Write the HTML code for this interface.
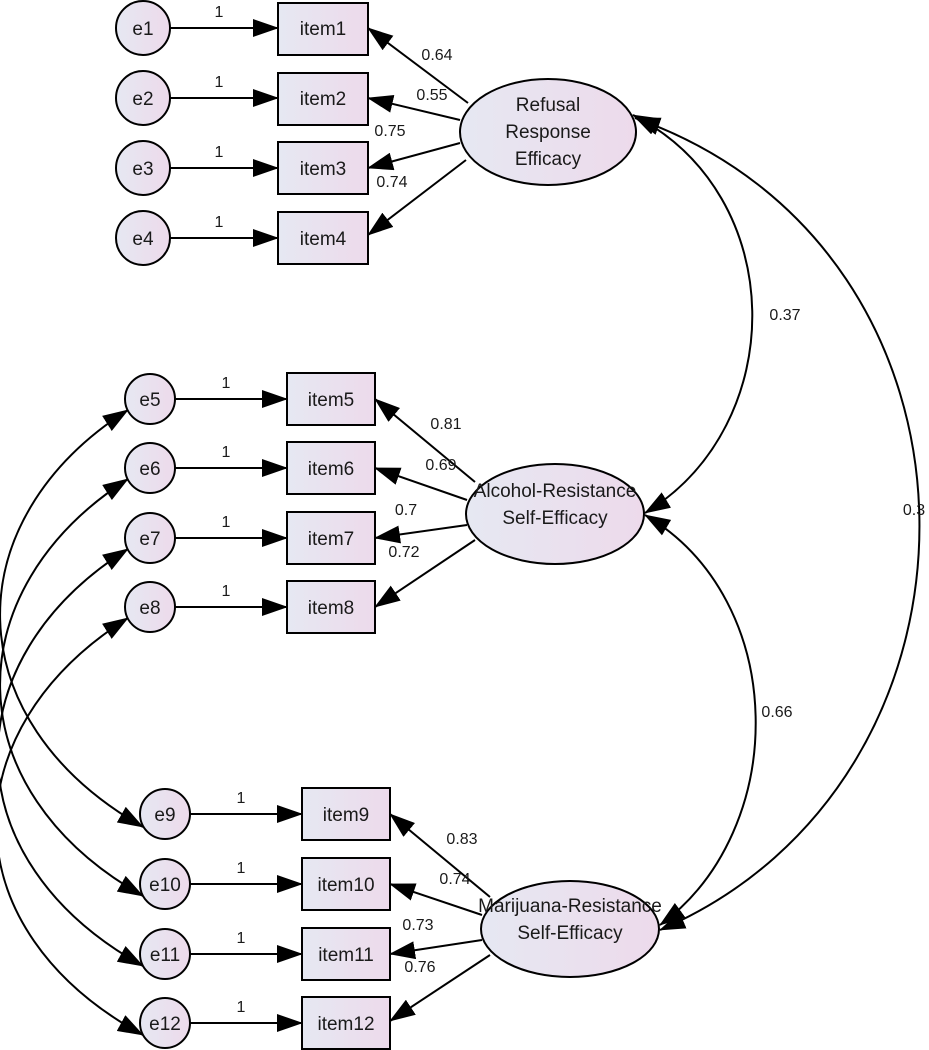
<!DOCTYPE html>
<html><head><meta charset="utf-8"><style>
html,body{margin:0;padding:0;background:#fff;}
svg{display:block;}
text{font-family:"Liberation Sans",sans-serif;fill:#1a1a1a;}
</style></head><body>
<svg width="929" height="1050" viewBox="0 0 929 1050" xmlns="http://www.w3.org/2000/svg">
<defs>
<linearGradient id="g" x1="0" y1="0" x2="1" y2="0">
<stop offset="0" stop-color="#e6e8f2"/><stop offset="1" stop-color="#eddaeb"/>
</linearGradient>
<marker id="a" markerUnits="userSpaceOnUse" markerWidth="26" markerHeight="18" viewBox="0 0 26 18" refX="25" refY="9" orient="auto-start-reverse">
<path d="M0,0 L26,9 L0,18 z" fill="#000"/>
</marker>
</defs>
<g stroke="#000" stroke-width="2" fill="none">
<path d="M143,827 C -45,720 -45,520 128,410" marker-start="url(#a)" marker-end="url(#a)"/>
<path d="M143,896 C -45,790 -45,590 128,479" marker-start="url(#a)" marker-end="url(#a)"/>
<path d="M143,966 C -48,860 -48,660 128,549" marker-start="url(#a)" marker-end="url(#a)"/>
<path d="M143,1035 C -50,930 -50,730 128,618" marker-start="url(#a)" marker-end="url(#a)"/>
<path d="M633,115 C 790,195 790,425 645,513" marker-start="url(#a)" marker-end="url(#a)"/>
<path d="M635,118 C 1010,250 1010,780 660,930" marker-start="url(#a)" marker-end="url(#a)"/>
<path d="M645,515 C 790,600 790,830 660,925" marker-start="url(#a)" marker-end="url(#a)"/>
<path d="M170,28 H278" marker-end="url(#a)"/>
<path d="M170,98 H278" marker-end="url(#a)"/>
<path d="M170,168 H278" marker-end="url(#a)"/>
<path d="M170,238 H278" marker-end="url(#a)"/>
<path d="M175,399 H287" marker-end="url(#a)"/>
<path d="M175,468 H287" marker-end="url(#a)"/>
<path d="M175,538 H287" marker-end="url(#a)"/>
<path d="M175,607 H287" marker-end="url(#a)"/>
<path d="M190,814 H302" marker-end="url(#a)"/>
<path d="M190,884 H302" marker-end="url(#a)"/>
<path d="M190,954 H302" marker-end="url(#a)"/>
<path d="M190,1023 H302" marker-end="url(#a)"/>
<path d="M468,103 L368,28" marker-end="url(#a)"/>
<path d="M460,120 L368,98" marker-end="url(#a)"/>
<path d="M460,143 L368,168" marker-end="url(#a)"/>
<path d="M466,160 L368,235" marker-end="url(#a)"/>
<path d="M475,482 L375,399" marker-end="url(#a)"/>
<path d="M467,500 L375,468" marker-end="url(#a)"/>
<path d="M467,525 L375,538" marker-end="url(#a)"/>
<path d="M475,540 L375,607" marker-end="url(#a)"/>
<path d="M490,897 L390,814" marker-end="url(#a)"/>
<path d="M482,915 L390,884" marker-end="url(#a)"/>
<path d="M482,940 L390,954" marker-end="url(#a)"/>
<path d="M490,955 L390,1021" marker-end="url(#a)"/>
</g>
<g stroke="#000" stroke-width="2" fill="url(#g)">
<circle cx="143" cy="28" r="27"/><circle cx="143" cy="98" r="27"/><circle cx="143" cy="168" r="27"/><circle cx="143" cy="238" r="27"/>
<circle cx="150" cy="399" r="25"/><circle cx="150" cy="468" r="25"/><circle cx="150" cy="538" r="25"/><circle cx="150" cy="607" r="25"/>
<circle cx="165" cy="814" r="25"/><circle cx="165" cy="884" r="25"/><circle cx="165" cy="954" r="25"/><circle cx="165" cy="1023" r="25"/>
<rect x="278" y="3" width="90" height="52"/><rect x="278" y="73" width="90" height="52"/><rect x="278" y="142" width="90" height="52"/><rect x="278" y="212" width="90" height="52"/>
<rect x="287" y="373" width="88" height="52"/><rect x="287" y="442" width="88" height="52"/><rect x="287" y="512" width="88" height="52"/><rect x="287" y="581" width="88" height="52"/>
<rect x="302" y="788" width="88" height="52"/><rect x="302" y="858" width="88" height="52"/><rect x="302" y="928" width="88" height="52"/><rect x="302" y="997" width="88" height="52"/>
<ellipse cx="548" cy="132" rx="88" ry="53"/>
<ellipse cx="555" cy="514" rx="89" ry="50"/>
<ellipse cx="570" cy="929" rx="89" ry="48"/>
</g>
<g font-size="19" text-anchor="middle">
<text x="143" y="35">e1</text><text x="143" y="105">e2</text><text x="143" y="175">e3</text><text x="143" y="245">e4</text>
<text x="150" y="406">e5</text><text x="150" y="475">e6</text><text x="150" y="545">e7</text><text x="150" y="614">e8</text>
<text x="165" y="821">e9</text><text x="165" y="891">e10</text><text x="165" y="961">e11</text><text x="165" y="1030">e12</text>
<text x="323" y="35">item1</text><text x="323" y="105">item2</text><text x="323" y="175">item3</text><text x="323" y="245">item4</text>
<text x="331" y="406">item5</text><text x="331" y="475">item6</text><text x="331" y="545">item7</text><text x="331" y="614">item8</text>
<text x="346" y="821">item9</text><text x="346" y="891">item10</text><text x="346" y="961">item11</text><text x="346" y="1030">item12</text>
<text x="548" y="111">Refusal</text><text x="548" y="138">Response</text><text x="548" y="165">Efficacy</text>
<text x="555" y="497">Alcohol-Resistance</text><text x="555" y="524">Self-Efficacy</text>
<text x="570" y="912">Marijuana-Resistance</text><text x="570" y="939">Self-Efficacy</text>
</g>
<g font-size="16" text-anchor="middle">
<text x="219" y="17">1</text><text x="219" y="87">1</text><text x="219" y="157">1</text><text x="219" y="227">1</text>
<text x="226" y="388">1</text><text x="226" y="457">1</text><text x="226" y="527">1</text><text x="226" y="596">1</text>
<text x="241" y="803">1</text><text x="241" y="873">1</text><text x="241" y="943">1</text><text x="241" y="1012">1</text>
<text x="437" y="60">0.64</text><text x="432" y="100">0.55</text><text x="390" y="136">0.75</text><text x="392" y="187">0.74</text>
<text x="446" y="429">0.81</text><text x="441" y="470">0.69</text><text x="406" y="515">0.7</text><text x="404" y="557">0.72</text>
<text x="462" y="844">0.83</text><text x="455" y="884">0.74</text><text x="418" y="930">0.73</text><text x="420" y="972">0.76</text>
<text x="785" y="320">0.37</text><text x="914" y="515">0.3</text><text x="777" y="717">0.66</text>
</g>
</svg>
</body></html>
